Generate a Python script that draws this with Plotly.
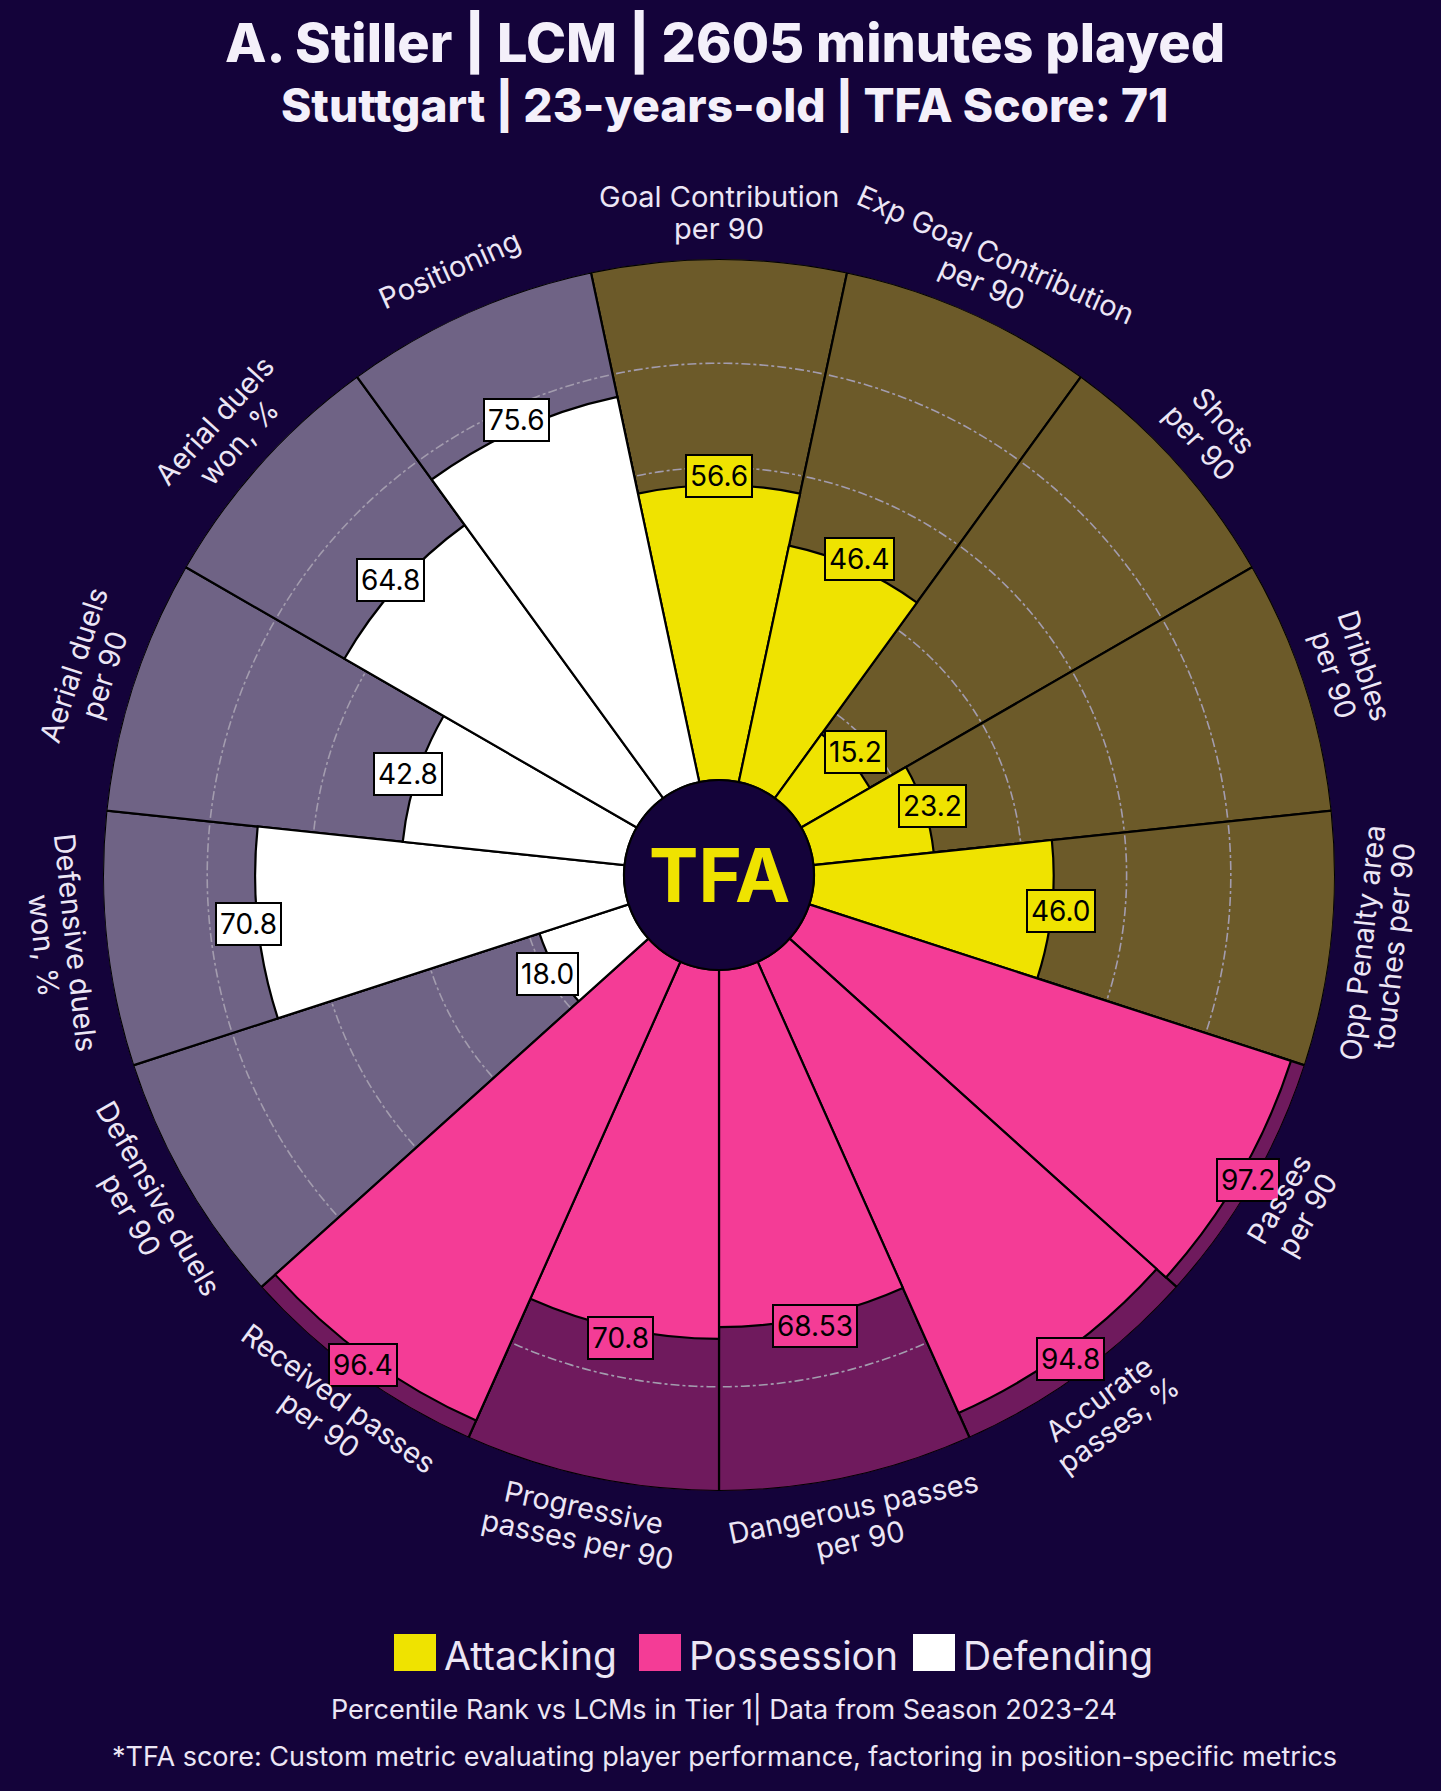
import math
import plotly.graph_objects as go

# ---------------- data ----------------
params = [
    "Goal Contribution\nper 90",
    "Exp Goal Contribution\nper 90",
    "Shots\nper 90",
    "Dribbles\nper 90",
    "Opp Penalty area\ntouches per 90",
    "Passes\nper 90",
    "Accurate\npasses, %",
    "Dangerous passes\nper 90",
    "Progressive\npasses per 90",
    "Received passes\nper 90",
    "Defensive duels\nper 90",
    "Defensive duels\nwon, %",
    "Aerial duels\nper 90",
    "Aerial duels\nwon, %",
    "Positioning",
]
values = [56.6, 46.4, 15.2, 23.2, 46.0, 97.2, 94.8, 68.53, 70.8, 96.4, 18.0, 70.8, 42.8, 64.8, 75.6]
groups = ["Attacking"] * 5 + ["Possession"] * 5 + ["Defending"] * 5
group_names = ["Attacking", "Possession", "Defending"]
ring_levels = [20, 40, 60, 80]

title_text = "A. Stiller | LCM | 2605 minutes played"
subtitle_text = "Stuttgart | 23-years-old | TFA Score: 71"
footer1 = "Percentile Rank vs LCMs in Tier 1| Data from Season 2023-24"
footer2 = "*TFA score: Custom metric evaluating player performance, factoring in position-specific metrics"

# ---------------- style ----------------
BG = "#14033a"
bar_colors = {"Attacking": "#efe300", "Possession": "#f43c96", "Defending": "#ffffff"}
slice_colors = {"Attacking": "#6c5a29", "Possession": "#6f1a5d", "Defending": "#6f6385"}
TEXT = "#ece6f5"
FONT = "Inter"

W, H = 1441, 1791
CX, CY = 719, 875          # pizza centre (px)
R = 616                    # outer radius (px)
HOLE = 95                  # centre hole radius (px)
LABEL_R = R + 47           # radius of the parameter-label block centre
LINE_SP = 32               # spacing between label lines (px)

n = len(params)
step = 360 / n
thetas = [i * step for i in range(n)]


def to_paper(val, theta_deg, r_px=None, extra=0):
    if r_px is None:
        r_px = HOLE + (R - HOLE) * val / 100.0
    r_px += extra
    t = math.radians(theta_deg)
    x = CX + r_px * math.sin(t)
    y = CY - r_px * math.cos(t)
    return x / W, 1 - y / H


fig = go.Figure()

# background slices
fig.add_trace(go.Barpolar(
    r=[100] * n, theta=thetas, width=[step] * n,
    marker=dict(color=[slice_colors[g] for g in groups], line=dict(color="#000000", width=2.2)),
    hoverinfo="skip", showlegend=False,
))

# value bars
fig.add_trace(go.Barpolar(
    r=values, theta=thetas, width=[step] * n,
    marker=dict(color=[bar_colors[g] for g in groups], line=dict(color="#000000", width=2.2)),
    hoverinfo="skip", showlegend=False,
))

# dash-dot reference rings, only in the uncovered part of each slice
for lvl in ring_levels:
    rr, tt = [], []
    for i, v in enumerate(values):
        if v < lvl:
            a0 = thetas[i] - step / 2 + 0.4
            pts = 30
            for k in range(pts + 1):
                tt.append(a0 + (step - 0.8) * k / pts)
                rr.append(lvl)
            tt.append(None)
            rr.append(None)
    if rr:
        fig.add_trace(go.Scatterpolar(
            r=rr, theta=tt, mode="lines",
            line=dict(color="#a39cae", width=1.6, dash="dashdot"),
            hoverinfo="skip", showlegend=False, connectgaps=False,
        ))

annotations = []
shapes = []

# value labels
for i, v in enumerate(values):
    x, y = to_paper(v, thetas[i], extra=9)
    annotations.append(dict(
        x=x, y=y, xref="paper", yref="paper", xanchor="center", yanchor="middle",
        text=str(v), showarrow=False,
        font=dict(family=FONT, size=28, color="#000000"),
        bgcolor=bar_colors[groups[i]], bordercolor="#000000", borderwidth=2, borderpad=3,
    ))

# parameter labels (one annotation per line, stacked radially)
for i, p in enumerate(params):
    th = thetas[i]
    lines = p.split("\n")
    nl = len(lines)
    bottom = 90 < th < 270
    if bottom:
        ang = th - 180
    elif th >= 270:
        ang = th - 360
    else:
        ang = th
    for k, line in enumerate(lines):
        off = (k - (nl - 1) / 2) * LINE_SP
        r_line = LABEL_R + off if bottom else LABEL_R - off
        x, y = to_paper(0, th, r_px=r_line)
        annotations.append(dict(
            x=x, y=y, xref="paper", yref="paper", xanchor="center", yanchor="middle",
            text=line, showarrow=False, textangle=ang,
            font=dict(family=FONT, size=29, color=TEXT),
        ))

# centre circle + logo
shapes.append(dict(
    type="circle", xref="paper", yref="paper",
    x0=(CX - HOLE) / W, x1=(CX + HOLE) / W, y0=1 - (CY + HOLE) / H, y1=1 - (CY - HOLE) / H,
    fillcolor=BG, line=dict(color="#000000", width=2), layer="above",
))
annotations.append(dict(
    x=CX / W, y=1 - CY / H, xref="paper", yref="paper", xanchor="center", yanchor="middle",
    text="<b>TFA</b>", showarrow=False,
    font=dict(family="Inter", size=74, color="#efe300", weight=900),
))

# titles
annotations.append(dict(
    x=725 / W, y=1 - 43 / H, xref="paper", yref="paper", xanchor="center", yanchor="middle",
    text=title_text, showarrow=False,
    font=dict(family=FONT, size=54, color="#f4f0fa", weight=800),
))
annotations.append(dict(
    x=724 / W, y=1 - 105 / H, xref="paper", yref="paper", xanchor="center", yanchor="middle",
    text=subtitle_text, showarrow=False,
    font=dict(family=FONT, size=46, color="#f4f0fa", weight=800),
))

# legend
leg_sq_x = [394, 639, 913]
for gname, sx in zip(group_names, leg_sq_x):
    shapes.append(dict(
        type="rect", xref="paper", yref="paper",
        x0=sx / W, x1=(sx + 42) / W, y0=1 - 1671 / H, y1=1 - 1634 / H,
        fillcolor=bar_colors[gname], line=dict(width=0), layer="above",
    ))
    annotations.append(dict(
        x=(sx + 48) / W, y=1 - 1655 / H, xref="paper", yref="paper", xanchor="left", yanchor="middle",
        text=gname, showarrow=False, font=dict(family=FONT, size=39, color=TEXT),
    ))

annotations.append(dict(
    x=724 / W, y=1 - 1709 / H, xref="paper", yref="paper", xanchor="center", yanchor="middle",
    text=footer1, showarrow=False, font=dict(family=FONT, size=27, color=TEXT),
))
annotations.append(dict(
    x=724 / W, y=1 - 1756 / H, xref="paper", yref="paper", xanchor="center", yanchor="middle",
    text=footer2, showarrow=False, font=dict(family=FONT, size=27, color=TEXT),
))

fig.update_layout(
    width=W, height=H,
    margin=dict(l=0, r=0, t=0, b=0),
    paper_bgcolor=BG, plot_bgcolor=BG,
    showlegend=False,
    polar=dict(
        domain=dict(x=[(CX - R) / W, (CX + R) / W], y=[1 - (CY + R) / H, 1 - (CY - R) / H]),
        bgcolor=BG,
        hole=HOLE / R,
        bargap=0,
        barmode="overlay",
        radialaxis=dict(range=[0, 100], visible=False, showgrid=False),
        angularaxis=dict(rotation=90, direction="clockwise", visible=False, showgrid=False,
                         thetaunit="degrees"),
    ),
    annotations=annotations,
    shapes=shapes,
)

fig.write_html(
    "out.html",
    config={"displayModeBar": False},
    post_script="document.body.style.margin='0';document.body.style.background='%s';" % BG,
)
